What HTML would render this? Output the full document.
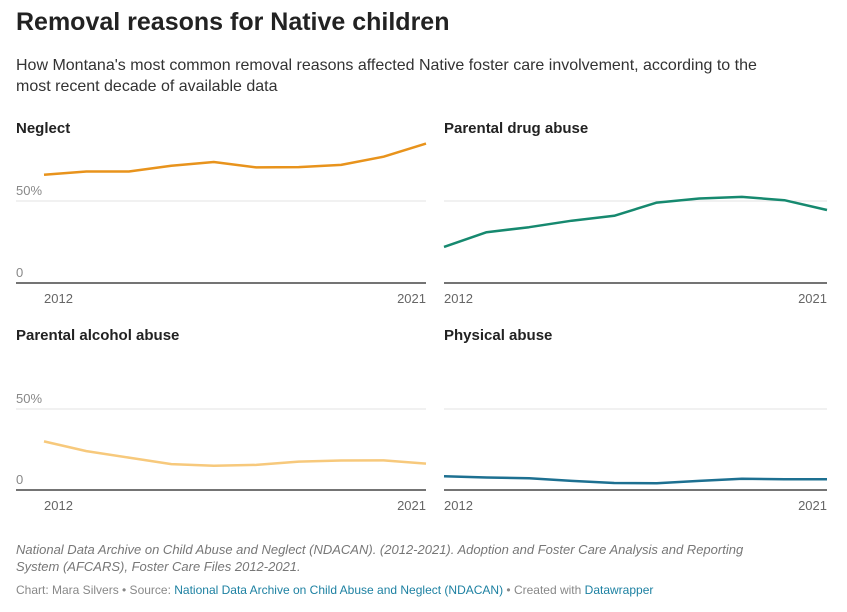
<!DOCTYPE html>
<html><head><meta charset="utf-8"><style>
body{margin:0;background:#fff;font-family:"Liberation Sans",sans-serif;width:847px;height:612px;overflow:hidden;position:relative}
.t{position:absolute;white-space:nowrap}
</style></head><body>
<div class="t" style="left:16px;top:8px;font-size:25px;font-weight:bold;color:#222">Removal reasons for Native children</div>
<div class="t" style="left:16px;top:55px;font-size:16px;line-height:21px;color:#333;white-space:normal;width:765px">How Montana's most common removal reasons affected Native foster care involvement, according to the most recent decade of available data</div>
<svg id="c" width="847" height="612" style="position:absolute;left:0;top:0"></svg>
<div class="t" style="left:16px;top:541px;font-size:13px;line-height:17px;font-style:italic;color:#777;white-space:normal;width:770px">National Data Archive on Child Abuse and Neglect (NDACAN). (2012-2021). Adoption and Foster Care Analysis and Reporting System (AFCARS), Foster Care Files 2012-2021.</div>
<div class="t" style="left:16px;top:583px;font-size:12px;color:#888">Chart: Mara Silvers • Source: <span style="color:#1d81a2">National Data Archive on Child Abuse and Neglect (NDACAN)</span> • Created with <span style="color:#1d81a2">Datawrapper</span></div>
<script>
const years=[2012,2013,2014,2015,2016,2017,2018,2019,2020,2021];
const titles=["Neglect","Parental drug abuse","Parental alcohol abuse","Physical abuse"];
const neglect=[66,68,68,71.5,73.8,70.5,70.7,72,77,85];
const drug=[22,31,34,38,41,49,51.5,52.5,50.5,44.5];
const alcohol=[30,24,20,16,15,15.5,17.5,18.2,18.3,16.3];
const physical=[8.5,7.7,7.2,5.6,4.3,4.2,5.6,7,6.6,6.6];
const series=[neglect,drug,alcohol,physical];
const colors=["#e8931c","#16896f","#f7c97c","#1d7091"];
const yTicks=[0,50];
const ns="http://www.w3.org/2000/svg",svg=document.getElementById("c");
function mk(t,a,p){const e=document.createElementNS(ns,t);for(const k in a)e.setAttribute(k,a[k]);(p||svg).appendChild(e);return e;}
const panels=[{x0:16,lx:44,x1:426,top:128,y0:283,y50:201},{x0:444,lx:444,x1:827,top:128,y0:283,y50:201},{x0:16,lx:44,x1:426,top:335,y0:490,y50:409},{x0:444,lx:444,x1:827,top:335,y0:490,y50:409}];
panels.forEach((p,i)=>{
 const g=mk("g",{});
 
 
 const xs=j=>p.lx+(p.x1-p.lx)*j/(years.length-1);
 const ys=v=>p.y0-(p.y0-p.y50)*v/50;
 const tt=mk("text",{x:p.x0,y:p.top+5,"font-size":15,"font-weight":"bold",fill:"#222"},g);tt.textContent=titles[i];
 
 
 yTicks.forEach(v=>{
  if(v>0){const gl=mk("line",{x1:p.x0,x2:p.x1,y1:ys(v),y2:ys(v),stroke:"#e3e3e3"},g);
   
   }
  if(i%2==0){const tl=mk("text",{x:p.x0,y:ys(v)-6,"font-size":13,fill:"#888"},g);tl.textContent=v?v+"%":"0";
   
   }
 });
 const bl=mk("line",{x1:p.x0,x2:p.x1,y1:p.y0,y2:p.y0,stroke:"#222","stroke-width":1.3},g);
 
 
 [[0,"start",p.lx],[years.length-1,"end",p.x1]].forEach(([j,an,x])=>{
  const xl=mk("text",{x:i%2==0&&j==0?44:x,y:p.y0+20,"font-size":13,fill:"#666","text-anchor":an},g);xl.textContent=years[j];
  
  
 });
 const d=series[i].map((v,j)=>(j?"L":"M")+xs(j).toFixed(1)+","+ys(v).toFixed(1)).join("");
 const ln=mk("path",{d:d,fill:"none",stroke:colors[i],"stroke-width":2.5,"stroke-linejoin":"round"},g);
 
 
});
</script>
</body></html>
